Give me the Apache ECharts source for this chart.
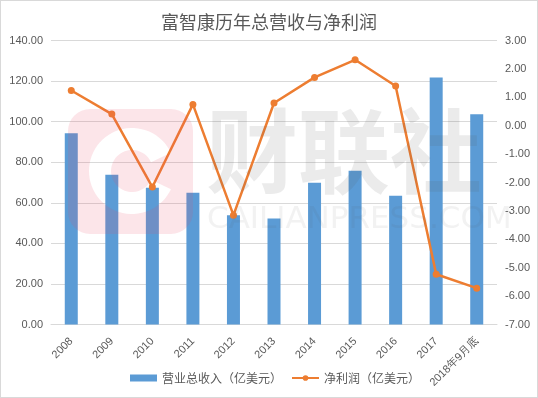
<!DOCTYPE html>
<html><head><meta charset="utf-8">
<script src="https://cdn.jsdelivr.net/npm/echarts@6/dist/echarts.min.js"></script>
<style>html,body{margin:0;padding:0;background:#fff}#c{position:absolute;left:0;top:0;width:536px;height:396px;border:1px solid #d9d9d9}</style>
</head><body><div id="c"></div>
<script>
const title = '富智康历年总营收与净利润';
const categories = ['2008','2009','2010','2011','2012','2013','2014','2015','2016','2017','2018年9月底'];
const revenueName = '营业总收入（亿美元）';
const profitName = '净利润（亿美元）';
const revenue = [94.3, 73.8, 67.4, 65.0, 53.8, 52.3, 69.9, 75.8, 63.5, 121.7, 103.6];
const profit = [1.24, 0.41, -2.16, 0.75, -3.15, 0.80, 1.70, 2.32, 1.40, -5.23, -5.72];

// watermark logo outline (decoration only)
function logoPoints() {
  const L = 67, T = 108, R = 192, B = 233, r = 22;
  const cx = 131, cy = 170, Ro = 43, Ri = 21, g = 25 * Math.PI / 180;
  const pts = [];
  const arc = (ax, ay, rad, a0, a1, n) => { for (let i = 0; i <= n; i++) { const a = a0 + (a1 - a0) * i / n; pts.push([ax + rad * Math.cos(a), ay + rad * Math.sin(a)]); } };
  const p0y = cy + Ro * Math.sin(g);
  pts.push([R, p0y]);
  arc(R - r, B - r, r, 0, Math.PI / 2, 8);
  arc(L + r, B - r, r, Math.PI / 2, Math.PI, 8);
  arc(L + r, T + r, r, Math.PI, 1.5 * Math.PI, 8);
  arc(R - r, T + r, r, 1.5 * Math.PI, 2 * Math.PI, 8);
  pts.push([R, p0y]);
  pts.push([cx + Ro * Math.cos(g), p0y]);
  arc(cx, cy, Ri, g, 2 * Math.PI - g, 40);
  arc(cx, cy, Ro, 2 * Math.PI - g, g, 60);
  pts.push([R, p0y]);
  return pts;
}

const chart = echarts.init(document.getElementById('c'), null, {renderer:'canvas'});
const txt = '#595959';
chart.setOption({
  animation:false,
  title:{text:title,left:'center',top:7,textStyle:{fontSize:18,fontWeight:'normal',color:txt,fontFamily:'Noto Sans CJK SC'}},
  graphic:[
    {type:'polygon',z:100,silent:true,shape:{points:logoPoints()},style:{fill:'rgba(232,70,100,0.14)'}},
    {type:'text',z:100,silent:true,left:205,top:104,style:{text:'财联社',font:'bold 92px Noto Sans CJK SC',fill:'rgba(90,90,90,0.12)'}},
    {type:'text',z:100,silent:true,left:206,top:203,style:{text:'CAILIANPRESS.COM',font:'31px DejaVu Sans',fill:'rgba(90,90,90,0.08)'}}
  ],
  grid:{left:50,right:40,top:39.5,bottom:72.5},
  legend:{bottom:13,left:129,padding:0,itemGap:9,itemWidth:27,itemHeight:7,textStyle:{fontSize:12,color:txt,fontFamily:'Noto Sans CJK SC'},
    data:[{name:revenueName,icon:'rect'},{name:profitName}]},
  xAxis:{type:'category',data:categories,
    axisLine:{lineStyle:{color:'#d9d9d9'}},axisTick:{show:false},
    axisLabel:{rotate:45,fontSize:11,color:txt,interval:0,margin:15,fontFamily:'Liberation Sans'}},
  yAxis:[
    {type:'value',min:0,max:140,interval:20,
     axisLabel:{formatter:v=>v.toFixed(2),fontSize:11,color:txt,margin:8,fontFamily:'Liberation Sans'},
     splitLine:{lineStyle:{color:'#d9d9d9'}},axisLine:{show:false},axisTick:{show:false}},
    {type:'value',min:-7,max:3,interval:1,
     axisLabel:{formatter:v=>v.toFixed(2),fontSize:11,color:txt,margin:8,fontFamily:'Liberation Sans'},
     splitLine:{show:false},axisLine:{show:false},axisTick:{show:false}}
  ],
  series:[
    {name:revenueName,type:'bar',data:revenue,barWidth:13,itemStyle:{color:'#5B9BD5'},yAxisIndex:0},
    {name:profitName,type:'line',data:profit,yAxisIndex:1,symbol:'circle',symbolSize:7,
     lineStyle:{width:2.5,color:'#ED7D31'},itemStyle:{color:'#ED7D31'}}
  ]
});
</script></body></html>
